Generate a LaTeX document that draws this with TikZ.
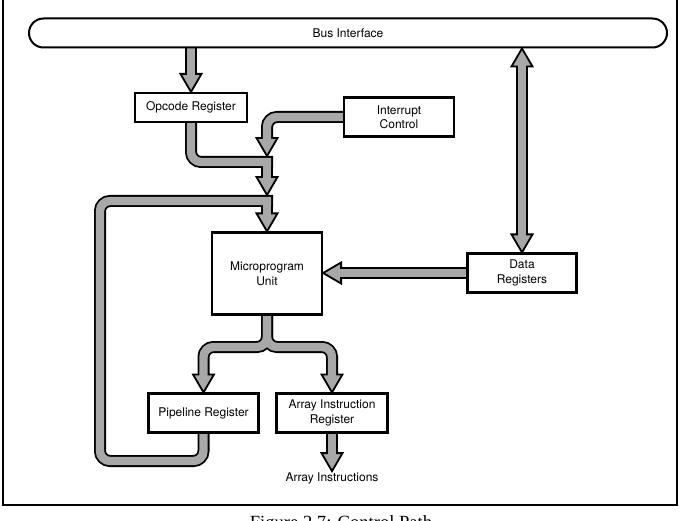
\documentclass[tikz,border=0pt]{standalone}
\usepackage{fontspec}
\newfontfamily\hv{TeX Gyre Heros}
\newfontfamily\capfont{Liberation Serif}
\usetikzlibrary{calc}
\pgfdeclarelayer{bg}
\pgfsetlayers{bg,main}
\definecolor{pipegray}{gray}{0.66}
\tikzset{
  boxst/.style={draw, line width=2.2pt, fill=white, font=\hv\fontsize{12}{14.5}\selectfont, align=center, inner sep=0pt},
  pipeo/.style={draw=black, line width=12pt, line cap=rect, rounded corners=10pt},
  pipei/.style={draw=pipegray, line width=8.4pt, line cap=rect, rounded corners=10pt},
  headst/.style={fill=pipegray, draw=black, line width=1.8pt, line join=miter},
}
\newcommand\headS[1]{\filldraw[headst] (#1) -- ++(-10.5,-18) -- ++(21,0) -- cycle;}
\newcommand\headN[1]{\filldraw[headst] (#1) -- ++(-10.5,18) -- ++(21,0) -- cycle;}
\newcommand\headW[1]{\filldraw[headst] (#1) -- ++(18,-10.5) -- ++(0,21) -- cycle;}
\newcommand\allpipes[1]{%
  \draw[#1] (bus.south -| opcode.north) -- ($(opcode.north)+(0,-15)$);
  \draw[#1] (opcode.south) -- (opcode.south |- jA) -- (jA);
  \draw[#1] (jA) -- ($(micro.north |- 0,195)+(0,-15)$);
  \draw[#1] (intr.west) -- (micro.north |- intr.west) -- ($(micro.north |- 0,156)+(0,-15)$);
  \draw[#1] (pipe.south) -- (pipe.south |- 0,461) -- (100,461) -- (100,201) -- (jB);
  \draw[#1] (jB) -- ($(micro.north)+(0,-15)$);
  \draw[#1] (micro.south) -- (micro.south |- 0,347) -- (pipe.north |- 0,347) -- ($(pipe.north)+(0,-15)$);
  \draw[#1] (micro.south) -- (micro.south |- 0,347) -- (air.north |- 0,347) -- ($(air.north)+(0,-15)$);
  \draw[#1] (air.south) -- ($(out.north)+(0,-15)$);
  \draw[#1] (data.west) -- ($(micro.east |- data.west)+(15,0)$);
  \draw[#1] ($(bus.south -| data.north)+(0,15)$) -- ($(data.north)+(0,-15)$);
}
\begin{document}
\begin{tikzpicture}[x=1pt,y=-1pt]
\useasboundingbox (0,0) rectangle (680,521);
% frame
\draw[line width=1.3pt] (3,-5) -- (3,505) -- (677,505) -- (677,-5);
% nodes
\node[boxst, line width=2pt, rounded corners=14.5pt, minimum width=638pt, minimum height=29pt] (bus) at (348,33) {Bus Interface};
\node[boxst, minimum width=112pt, minimum height=29pt] (opcode) at (191,107.5) {Opcode Register};
\node[boxst, minimum width=110pt, minimum height=39pt] (intr) at (399,117) {Interrupt\\Control};
\node[boxst, minimum width=110pt, minimum height=82pt] (micro) at (267,273.5) {Microprogram\\Unit};
\node[boxst, minimum width=109pt, minimum height=39pt] (data) at (522,273) {Data\\Registers};
\node[boxst, minimum width=110pt, minimum height=39pt] (pipe) at (203.5,413) {Pipeline Register};
\node[boxst, minimum width=111pt, minimum height=39pt] (air) at (332,413) {Array Instruction\\Register};
\node[font=\hv\fontsize{12}{14}\selectfont, inner sep=1.5pt] (out) at (332,478.5) {Array Instructions};
\node[font=\capfont\fontsize{18.6}{20}\selectfont, anchor=base] (cap) at (341,528) {Figure 2.7: Control Path};
\coordinate (jA) at (micro.north |- 0,162);
\coordinate (jB) at (micro.north |- 0,201);
% pipes
\begin{pgfonlayer}{bg}
\allpipes{pipeo}
\headS{opcode.north}
\headS{micro.north |- 0,156}
\headS{micro.north |- 0,195}
\headS{micro.north}
\headS{pipe.north}
\headS{air.north}
\headS{out.north}
\headW{micro.east |- data.west}
\headN{bus.south -| data.north}
\headS{data.north}
\allpipes{pipei}
\end{pgfonlayer}
\end{tikzpicture}
\end{document}
